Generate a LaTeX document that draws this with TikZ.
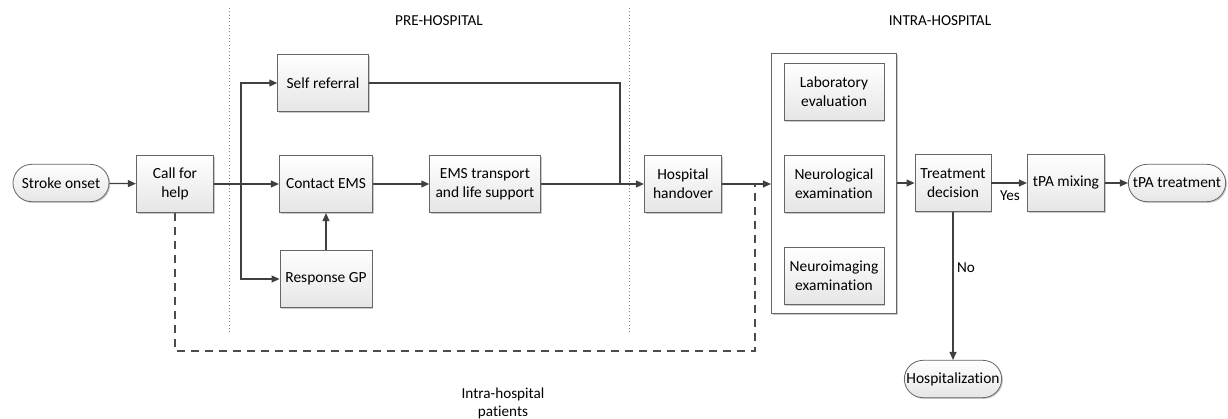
\documentclass[tikz,border=0pt]{standalone}
\usepackage{fontspec}
\setmainfont{Carlito}[Ligatures=NoCommon]
\usetikzlibrary{arrows.meta,shapes.misc,shadows}

\tikzset{
  box/.style={rectangle, draw=black!60, line width=0.6pt, top color=white, bottom color=black!10,
    drop shadow={shadow xshift=0.9pt, shadow yshift=-0.9pt, opacity=0.35, fill=black!60},
    align=center, minimum height=43pt, inner sep=1pt, font=\fontsize{11.6}{14}\selectfont},
  term/.style={box, rounded rectangle, minimum height=28pt},
  panel/.style={rectangle, draw=black!60, line width=0.6pt, fill=white,
    drop shadow={shadow xshift=0.9pt, shadow yshift=-0.9pt, opacity=0.35, fill=black!60}},
  flow/.style={draw=black!75, line width=0.9pt, -{Triangle[length=6pt,width=5.2pt]}},
  link/.style={draw=black!75, line width=0.9pt},
  back/.style={draw=black!70, line width=0.9pt, dash pattern=on 6pt off 4.5pt},
  zone/.style={draw=black!50, line width=0.5pt, dotted},
  lbl/.style={font=\fontsize{11.4}{13.5}\selectfont, align=center}
}

\begin{document}
\begin{tikzpicture}[x=0.75pt, y=-0.75pt]
\useasboundingbox (0,0) rectangle (1228,418);

% phases
\draw[zone] (229,8) -- (229,333);
\draw[zone] (629,8) -- (629,333);
\node[lbl] (pre) at (439,21) {PRE-HOSPITAL};
\node[lbl] (intra) at (940,21) {INTRA-HOSPITAL};

% pre-hospital
\node[term, minimum width=74pt] (onset) at (61,183) {Stroke onset};
\node[box, minimum width=58pt] (call) at (175,184) {Call for\\help};
\node[box, minimum width=68pt] (self) at (323,83) {Self referral};
\node[box, minimum width=70pt] (ems) at (326,184) {Contact EMS};
\node[box, minimum width=69pt] (gp) at (326,279) {Response GP};
\node[box, minimum width=83pt] (trans) at (485,184) {EMS transport\\and life support};

% intra-hospital
\node[box, minimum width=58pt] (handover) at (683,184) {Hospital\\handover};
\node[panel, minimum width=94pt, minimum height=195pt] (exam) at (834,183.5) {};
\node[box, minimum width=75pt] (lab) at (834,92) {Laboratory\\evaluation};
\node[box, minimum width=75pt] (neuro) at (834,184) {Neurological\\examination};
\node[box, minimum width=75pt] (img) at (834,276) {Neuroimaging\\examination};
\node[box, minimum width=57pt] (decide) at (953,183) {Treatment\\decision};
\node[box, minimum width=58pt] (mix) at (1066,183) {tPA mixing};
\node[term, minimum width=75pt] (tpa) at (1177,183) {tPA treatment};
\node[term, minimum width=75pt] (stay) at (953,379) {Hospitalization};

\node[lbl] (yes) at (1010,196) {Yes};
\node[lbl] (no) at (966,268) {No};
\node[lbl] (inpat) at (503,403) {Intra-hospital\\patients};

\coordinate (split) at (241,184);
\coordinate (join) at (620,184);
\coordinate (bend) at (755,184);

\draw[flow] (onset) -- (call);
\draw[flow] (call.east |- split) -- (ems.west |- split);
\draw[flow] (split) |- (self);
\draw[flow] (split) |- (gp);
\draw[flow] (gp) -- (ems);
\draw[flow] (ems) -- (trans.west |- ems);
\draw[link] (self) -| (join);
\draw[flow] (trans.east |- join) -- (handover.west |- join);
\draw[flow] (handover.east |- bend) -- (exam.west |- bend);
\draw[back] (call.south) -- (call.south |- 0,351) -- (bend |- 0,351) -- (bend);
\draw[flow] (exam.east |- decide) -- (decide);
\draw[flow] (decide) -- (mix);
\draw[flow] (mix) -- (tpa);
\draw[flow] (decide) -- (stay);

\end{tikzpicture}
\end{document}
